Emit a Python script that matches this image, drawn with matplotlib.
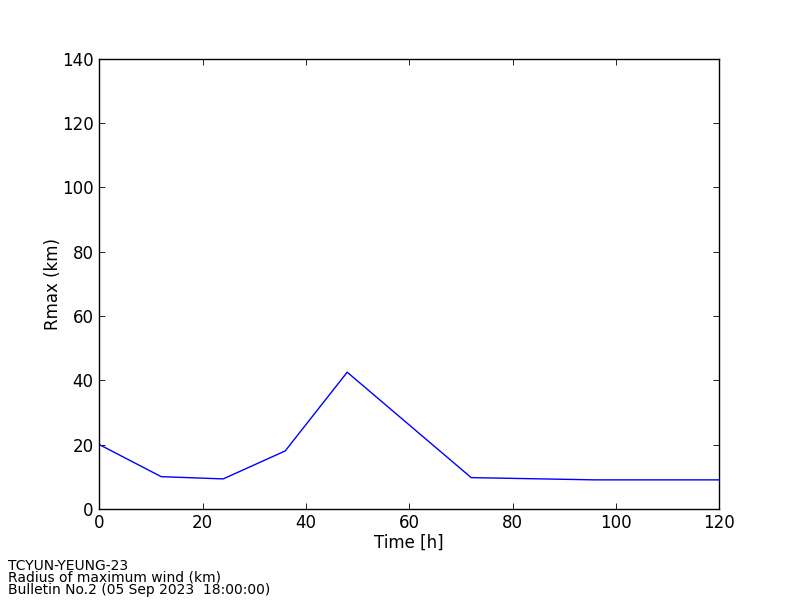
import matplotlib
matplotlib.use("Agg")
import matplotlib.pyplot as plt

time_h = [0, 12, 24, 36, 48, 72, 96, 120]
rmax_km = [20.0, 10.0, 9.3, 18.0, 42.5, 9.7, 9.0, 9.0]
x_ticks = [0, 20, 40, 60, 80, 100, 120]
y_ticks = [0, 20, 40, 60, 80, 100, 120, 140]

fig = plt.figure(figsize=(8, 6), dpi=100)
ax = fig.add_axes([0.124, 0.152, 0.775, 0.75])
ax.plot(time_h, rmax_km, color='#0000ff', linewidth=1.0)
ax.set_xlim(0, 120)
ax.set_ylim(0, 140)
ax.set_xticks(x_ticks)
ax.set_yticks(y_ticks)
ax.tick_params(direction='in', top=True, right=True, labelsize=12, length=4, width=0.6, pad=4)
for s in ax.spines.values():
    s.set_linewidth(1.0)
ax.set_xlabel('Time [h]', fontsize=12, labelpad=1)
ax.set_ylabel('Rmax (km)', fontsize=12, labelpad=0)
fig.text(0.01, 0.005, 'TCYUN-YEUNG-23\nRadius of maximum wind (km)\nBulletin No.2 (05 Sep 2023  18:00:00)',
         fontsize=10, ha='left', va='bottom', linespacing=0.82)
fig.savefig('out.png', dpi=100)
